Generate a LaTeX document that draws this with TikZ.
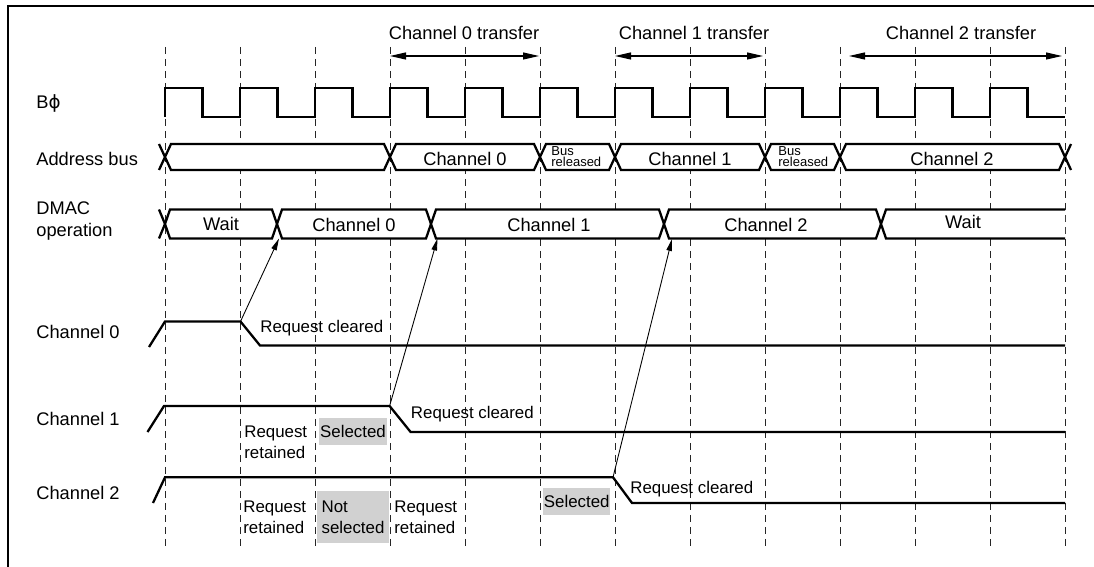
\documentclass[tikz,border=0pt]{standalone}
\usepackage{fontspec}
\setmainfont{Liberation Sans}
\newfontfamily\dejavu{DejaVu Sans}
\usetikzlibrary{arrows.meta}

\begin{document}
\begin{tikzpicture}[x=0.02cm, y=-0.02cm,
    sig/.style={line width=1.3pt},
    seg/.style={sig, fill=white},
    tick/.style={dash pattern=on 0.14cm off 0.1cm, line width=0.5pt, black!85},
    lbl/.style={anchor=west, inner sep=0pt, align=left, font=\fontsize{10.4}{13}\selectfont},
    bus/.style={inner sep=0pt, font=\fontsize{10.4}{13}\selectfont},
    note/.style={anchor=west, inner sep=0pt, align=left, font=\fontsize{9.6}{11.9}\selectfont},
    sel/.style={fill=black!18, inner sep=0pt, align=left, font=\fontsize{9.6}{11.9}\selectfont},
    tiny/.style={anchor=west, inner sep=0pt, align=left, font=\fontsize{7.4}{6.2}\selectfont},
    tarr/.style={{Triangle[length=3.2mm,width=1.4mm]}-{Triangle[length=3.2mm,width=1.4mm]}, line width=0.6pt},
    arr/.style={-{Triangle[length=2.4mm,width=1.1mm]}, line width=0.5pt}]
    \useasboundingbox (0,0) rectangle (1094,567);
    \draw[line width=1.5pt] (8,567) -- (8,6) -- (1094,6);
    % cycle marks
    \foreach \i in {0,...,12}
      \draw[tick] ({165+75*\i},47) -- ({165+75*\i},547);
    % signal names
    \node[lbl] (nclk) at (36,103) {B{\dejavu ϕ}};
    \node[lbl] (naddr) at (36,159) {Address bus};
    \node[lbl] (ndmac) at (36,221) {DMAC\\operation};
    \node[lbl] (nch0) at (36,332) {Channel 0};
    \node[lbl] (nch1) at (36,419) {Channel 1};
    \node[lbl] (nch2) at (36,493) {Channel 2};
    % transfers
    \node[bus] (tr0) at (464,33) {Channel 0 transfer};
    \node[bus] (tr1) at (694,33) {Channel 1 transfer};
    \node[bus] (tr2) at (961,33) {Channel 2 transfer};
    \coordinate (tr0a) at (390,56); \coordinate (tr0b) at (539,56);
    \coordinate (tr1a) at (615,56); \coordinate (tr1b) at (763,56);
    \coordinate (tr2a) at (849,56); \coordinate (tr2b) at (1062,56);
    \draw[tarr] (tr0a) -- (tr0b);
    \draw[tarr] (tr1a) -- (tr1b);
    \draw[tarr] (tr2a) -- (tr2b);
    % clock
    \draw[sig] (165,117) \foreach \i in {0,...,11} {
      -- ({165+75*\i},88) -- ({202.5+75*\i},88) -- ({202.5+75*\i},117) -- ({240+75*\i},117)};
    % address bus
    \draw[sig] (159,144) -- (165,157) -- (159,170);
    \foreach \a/\b in {165/390, 390/540, 540/615, 615/765, 765/840, 840/1065}
      \draw[seg] (\a,157) -- ({\a+6},144) -- ({\b-6},144) -- (\b,157) -- ({\b-6},170) -- ({\a+6},170) -- cycle;
    \draw[sig] (1071,144) -- (1065,157) -- (1071,170);
    \node[bus] (ab0) at (465,159) {Channel 0};
    \node[tiny] (ab1) at (551,157) {Bus\\released};
    \node[bus] (ab2) at (690,159) {Channel 1};
    \node[tiny] (ab3) at (778,157) {Bus\\released};
    \node[bus] (ab4) at (952,159) {Channel 2};
    % DMAC operation
    \draw[sig] (159,209.5) -- (165,224) -- (159,238.5);
    \foreach \a/\b in {165/277, 277/431, 431/664, 664/881}
      \draw[seg] (\a,224) -- ({\a+5},209.5) -- ({\b-5},209.5) -- (\b,224) -- ({\b-5},238.5) -- ({\a+5},238.5) -- cycle;
    \fill[white] (881,224) -- (886,209.5) -- (1065,209.5) -- (1065,238.5) -- (886,238.5) -- cycle;
    \draw[sig] (1065,209.5) -- (886,209.5) -- (881,224) -- (886,238.5) -- (1065,238.5);
    \node[bus] (dm0) at (221,224) {Wait};
    \node[bus] (dm1) at (354,225) {Channel 0};
    \node[bus] (dm2) at (549,225) {Channel 1};
    \node[bus] (dm3) at (766,225) {Channel 2};
    \node[bus] (dm4) at (963,222) {Wait};
    \coordinate (d1) at (279,238.5);
    \coordinate (d2) at (437.5,238.5);
    \coordinate (d3) at (672,239);
    % channel requests
    \coordinate (r0) at (240.5,321.5);
    \coordinate (r1) at (389.6,406);
    \coordinate (r2) at (613,477.3);
    \draw[sig] (149,347) -- (165,321.5) -- (r0) -- (260,345.5) -- (1065,345.5);
    \draw[sig] (147.5,432) -- (164,406) -- (r1) -- (410.6,432) -- (1065,432);
    \draw[sig] (153,503) -- (165,477.3) -- (r2) -- (632,503) -- (1065,503);
    \draw[arr] (r0) -- (d1);
    \draw[arr] (r1) -- (d2);
    \draw[arr] (r2) -- (d3);
    \node[note] (clr0) at (260,328) {Request cleared};
    \node[note] (clr1) at (410.6,414) {Request cleared};
    \node[note] (clr2) at (630,489) {Request cleared};
    \node[note] (ret1) at (244,442) {Request\\retained};
    \node[sel, minimum width=1.35cm, minimum height=0.534cm] (sel1) at (353,431.7) {Selected};
    \node[note] (ret2) at (243,517) {Request\\retained};
    \node[sel, minimum width=1.44cm, minimum height=1.05cm] (nsel2) at (353,517) {Not\\selected};
    \node[note] (ret3) at (394,517) {Request\\retained};
    \node[sel, minimum width=1.35cm, minimum height=0.534cm] (sel2) at (576.7,501.7) {Selected};
\end{tikzpicture}
\end{document}
